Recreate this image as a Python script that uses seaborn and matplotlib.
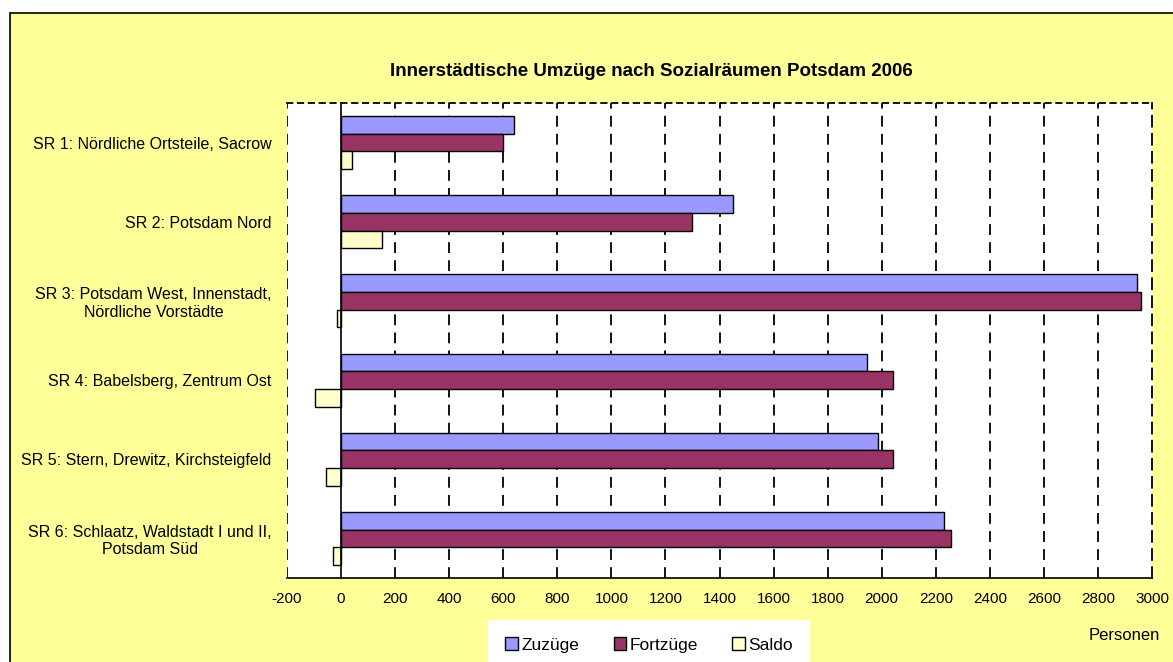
import numpy as np
import pandas as pd
import matplotlib
matplotlib.use("Agg")
import matplotlib.pyplot as plt
from matplotlib.patches import Rectangle
import seaborn as sns

# values (Personen)
regions = [
    "SR 1: Nördliche Ortsteile, Sacrow",
    "SR 2: Potsdam Nord",
    "SR 3: Potsdam West, Innenstadt,\nNördliche Vorstädte",
    "SR 4: Babelsberg, Zentrum Ost",
    "SR 5: Stern, Drewitz, Kirchsteigfeld",
    "SR 6: Schlaatz, Waldstadt I und II,\nPotsdam Süd",
]
zuzuege = [640, 1450, 2945, 1946, 1987, 2231]
fortzuege = [600, 1300, 2960, 2042, 2042, 2257]
saldo = [40, 150, -15, -96, -55, -30]

series = ["Zuzüge", "Fortzüge", "Saldo"]
colors = ["#9999FF", "#993366", "#FFFFCC"]

df = pd.DataFrame({
    "Sozialraum": regions * 3,
    "Serie": np.repeat(series, len(regions)),
    "Personen": zuzuege + fortzuege + saldo,
})

sns.set_style("white")
plt.rcParams["font.family"] = ["Liberation Sans", "DejaVu Sans"]
plt.rcParams["text.color"] = "black"
plt.rcParams["xtick.color"] = "black"
plt.rcParams["ytick.color"] = "black"
plt.rcParams["axes.unicode_minus"] = False

fig = plt.figure(figsize=(11.73, 6.62), dpi=100)
fig.patch.set_facecolor("white")
# yellow chart area (cut off at right / bottom like the screenshot)
fig.patches.append(Rectangle((10 / 1173, -0.05), 1.2, 1 - 13 / 662 + 0.05,
                             transform=fig.transFigure, facecolor="#FFFF99",
                             edgecolor="black", linewidth=1.2, zorder=-5))

ax = fig.add_axes([287 / 1173, 1 - 578 / 662, (1152 - 287) / 1173, (578 - 103) / 662])
ax.set_facecolor("white")

sns.barplot(data=df, x="Personen", y="Sozialraum", hue="Serie", hue_order=series,
            palette=colors, saturation=1, orient="h", width=0.67, edgecolor="black",
            linewidth=1.0, ax=ax, legend=True, zorder=3)

ax.set_xlim(-200, 3000)
ax.set_ylim(5.5, -0.5)
ax.set_xticks(range(-200, 3001, 200))
ax.tick_params(axis="x", direction="out", length=4, width=1, labelsize=11, pad=6)

# vertical dashed gridlines
for v in range(200, 3000, 200):
    ax.axvline(v, color="black", linestyle=(0, (6, 4)), linewidth=1.3, zorder=1)

# spines: solid axes at 0 / bottom, dashed frame around the plot area
ax.spines["left"].set_position(("data", 0))
ax.spines["left"].set_linewidth(1.2)
ax.spines["left"].set_zorder(4)
ax.spines["bottom"].set_linewidth(1.2)
ax.spines["top"].set_linestyle((0, (3, 3)))
ax.spines["top"].set_linewidth(1.3)
ax.spines["right"].set_linestyle((0, (6, 4)))
ax.spines["right"].set_linewidth(1.3)
ax.axvline(-200, color="black", linestyle=(0, (6, 4)), linewidth=1.3, zorder=1)
for s in ["left", "top", "right", "bottom"]:
    ax.spines[s].set_color("black")

ax.set_yticks(range(len(regions)))
ax.set_yticklabels(regions, multialignment="center")
ax.set_yticks(np.arange(-0.5, 6, 1.0), minor=True)
ax.tick_params(axis="y", which="major", length=0, labelsize=11.5, pad=50)
ax.tick_params(axis="y", which="minor", length=5, width=1, direction="out")

ax.set_xlabel("")
ax.set_ylabel("")

fig.text(651 / 1173, 1 - 72 / 662, "Innerstädtische Umzüge nach Sozialräumen Potsdam 2006",
         ha="center", va="center", fontsize=13.5, fontweight="bold")
fig.text(1124 / 1173, 1 - 635 / 662, "Personen", ha="center", va="center", fontsize=12)

handles, labels = ax.get_legend_handles_labels()
ax.get_legend().remove()
leg = fig.legend(handles, labels, ncol=3, loc="center", bbox_to_anchor=(649 / 1173, 1 - 645 / 662),
                 frameon=True, fancybox=False, edgecolor="white", facecolor="white",
                 framealpha=1, fontsize=12.5, handlelength=0.7, handleheight=0.7,
                 handletextpad=0.2, columnspacing=2.0, borderpad=1.0, borderaxespad=0)
leg.get_frame().set_linewidth(0)

fig.savefig("out.png", dpi=100)
